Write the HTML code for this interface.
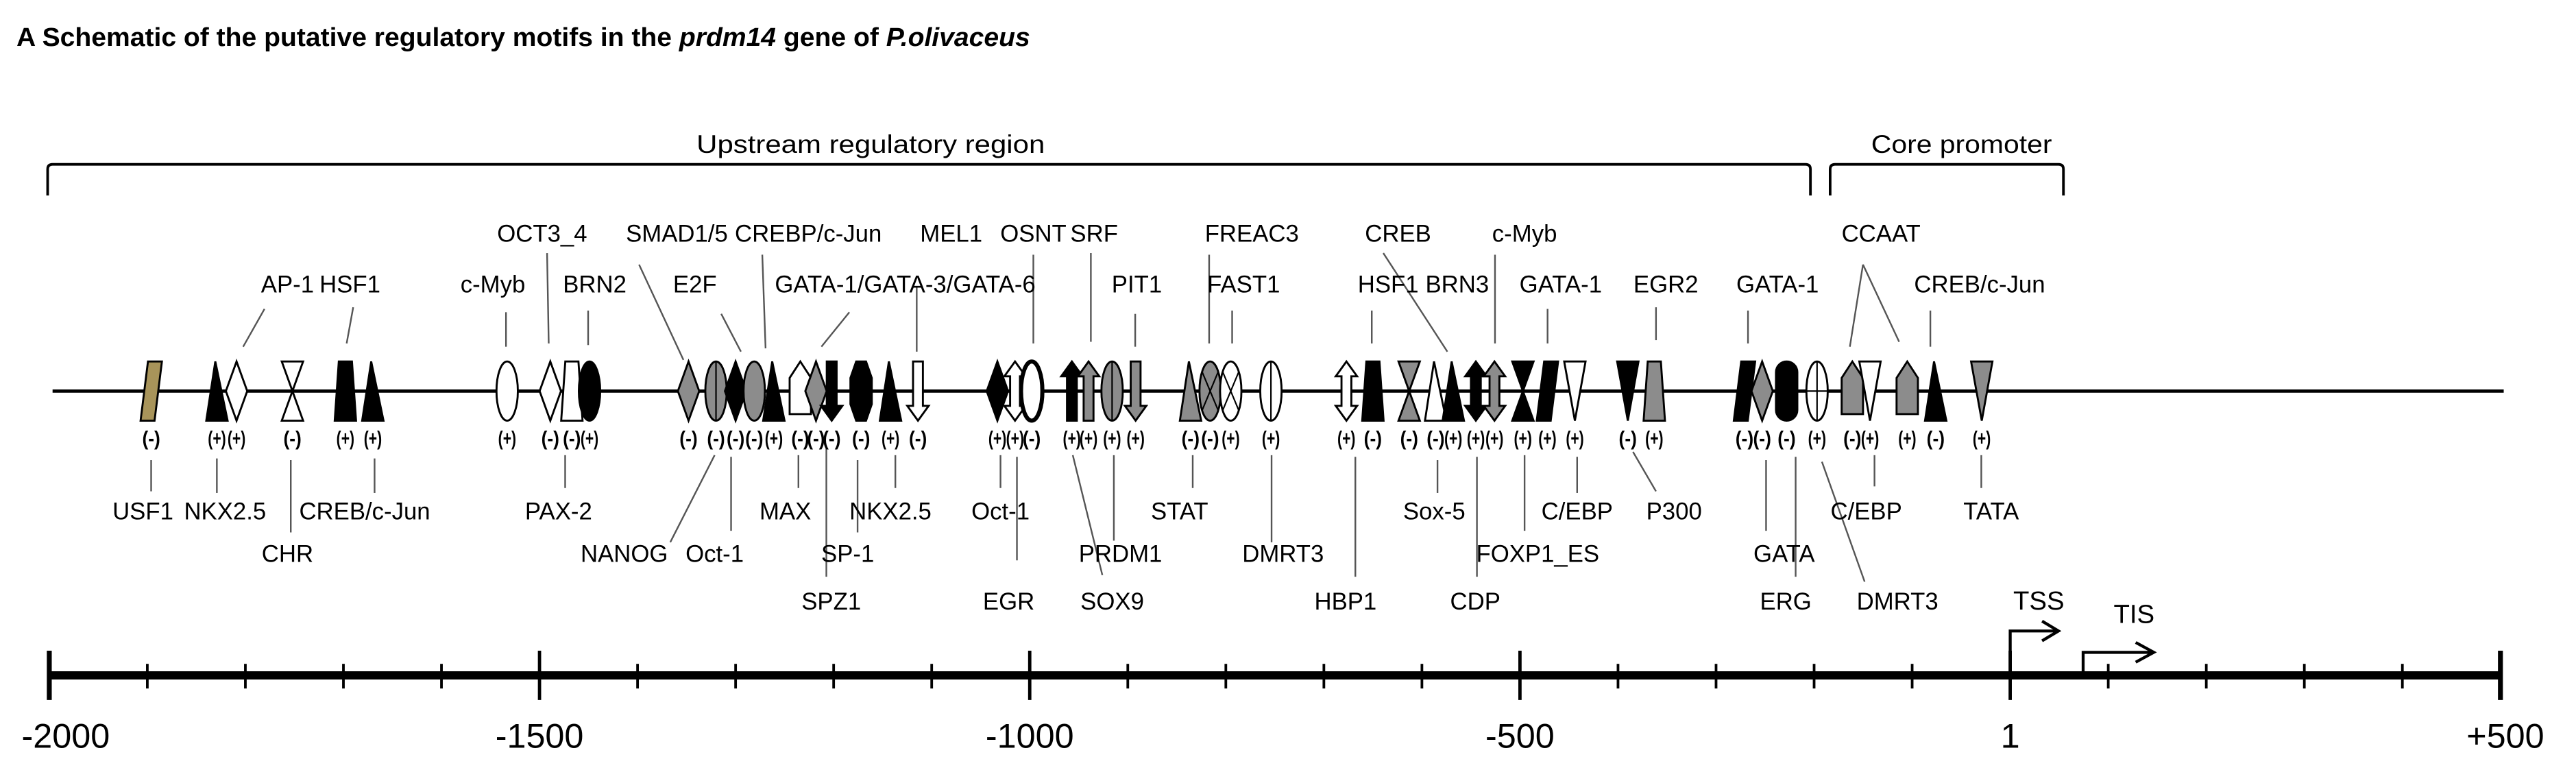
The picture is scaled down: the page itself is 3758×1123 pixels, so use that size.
<!DOCTYPE html>
<html><head><meta charset="utf-8"><style>
html,body{margin:0;padding:0;background:#fff;}
svg{display:block;}
text{font-family:"Liberation Sans",sans-serif;fill:#000;}
</style></head><body>
<svg id="fig" width="3758" height="1123" viewBox="0 0 1568 468.6" preserveAspectRatio="none" xmlns="http://www.w3.org/2000/svg">
<text x="10" y="28" font-size="16" font-weight="bold" textLength="617" lengthAdjust="spacingAndGlyphs">A Schematic of the putative regulatory motifs in the <tspan font-style="italic">prdm14</tspan> gene of <tspan font-style="italic">P.olivaceus</tspan></text>
<g>
<path d="M29,119 V103 Q29,100 32,100 H1099 Q1102,100 1102,103 V119" fill="none" stroke="#000" stroke-width="1.6"/>
<text x="530" y="93" font-size="15.5" text-anchor="middle" textLength="212" lengthAdjust="spacingAndGlyphs">Upstream regulatory region</text>
</g>
<g>
<path d="M1114,119 V103 Q1114,100 1117,100 H1253 Q1256,100 1256,103 V119" fill="none" stroke="#000" stroke-width="1.6"/>
<text x="1194" y="93" font-size="15.5" text-anchor="middle" textLength="110" lengthAdjust="spacingAndGlyphs">Core promoter</text>
</g>
<line x1="32" y1="238" x2="1524" y2="238" stroke="#000" stroke-width="2"/>
<g id="leaders"></g>
<g id="motifs"></g>
<g id="labels"></g>
<g id="axis"></g>
</svg>
<script>
// motif data (bp positions)
const motifPos = [-1896,-1829,-1809,-1752,-1698,-1670,-1533,-1489,-1467,-1449,-1348,-1320,-1300,-1281,-1261,-1234,-1218,-1202,-1172,-1142,-1114,-1033,-1015,-998,-957,-940,-916,-892,-836,-816,-795,-754,-677,-650,-613,-586,-568,-545,-526,-497,-472,-444,-390,-363,-271,-253,-228,-197,-161,-143,-105,-76,-29];
const motifShape = ['para','tri','diamond','hour','trap','tri','ellipse','diamond','trap','ellipse','diamond','ellipse','diamond','ellipse','tri','pent','diamond','arrowDown','hex','tri','arrowDown','diamond','arrowUD','ellipse','arrowUp','arrowUp','ellipse','arrowDown','tri','ellipse','ellipse','ellipse','arrowUD','trap','hour','tri','tri','arrowUD','arrowUD','hour','para','triDown','triDown','trap','para','diamond','rrect','ellipse','pent','triDown','pent','tri','triDown'];
const motifFill = ['o','k','w','w','k','k','w','w','w','k','g','g','k','g','k','w','g','k','k','k','w','k','w','w','k','g','g','g','g','g','w','w','w','k','g','w','k','k','g','k','k','w','k','g','k','g','k','w','g','w','g','k','g'];
const motifDeco = ['','','','','','','','','','','','v','','','','','','','','','','','','o','','','v','','','x','x','v','','','','','','','','','','','','','','','','c','','','','',''];
const motifStrand = ['(-)','(+)','(+)','(-)','(+)','(+)','(+)','(-)','(-)','(+)','(-)','(-)','(-)','(-)','(+)','(-)','(-)','(-)','(-)','(+)','(-)','(+)','(+)','(-)','(+)','(+)','(+)','(+)','(-)','(-)','(+)','(+)','(+)','(-)','(-)','(-)','(+)','(+)','(+)','(+)','(+)','(+)','(-)','(+)','(-)','(-)','(-)','(+)','(-)','(+)','(+)','(-)','(+)'];
// labels: text, x, y
const labelText = ['OCT3_4','SMAD1/5','CREBP/c-Jun','MEL1','OSNT','SRF','FREAC3','CREB','c-Myb','CCAAT','AP-1','HSF1','c-Myb','BRN2','E2F','GATA-1/GATA-3/GATA-6','PIT1','FAST1','HSF1','BRN3','GATA-1','EGR2','GATA-1','CREB/c-Jun','USF1','NKX2.5','CREB/c-Jun','CHR','PAX-2','NANOG','Oct-1','MAX','SP-1','SPZ1','NKX2.5','Oct-1','EGR','SOX9','PRDM1','STAT','DMRT3','HBP1','Sox-5','CDP','FOXP1_ES','C/EBP','P300','GATA','ERG','DMRT3','C/EBP','TATA'];
const labelX = [330,412,492,579,629,666,762,851,928,1145,175,213,300,362,423,551,692,757,845,887,950,1014,1082,1205,87,137,222,175,340,380,435,478,516,506,542,609,614,677,682,718,781,819,873,898,936,960,1019,1086,1087,1155,1136,1212];
const labelY = [142,142,142,142,142,142,142,142,142,142,173,173,173,173,173,173,173,173,173,173,173,173,173,173,311,311,311,337,311,337,337,311,337,366,311,311,366,366,337,311,337,366,311,366,337,311,311,337,366,366,311,311];
// leader lines x1,y1,x2,y2
const leaders = [[333,154,334,209],[389,161,416,219],[464,155,466,212],[558,175,558,214],[629,155,629,209],[664,154,664,208],[736,155,736,209],[842,154,881,214],[910,155,910,209],[1134,161,1126,211],[1134,161,1156,208],[161,188,148,211],[215,187,211,209],[308,190,308,211],[358,189,358,210],[439,191,451,214],[517,190,500,211],[691,191,691,211],[750,189,750,209],[835,189,835,209],[942,188,942,209],[1008,187,1008,207],[1064,189,1064,209],[1175,189,1175,211],
[92,280,92,299],[132,279,132,300],[228,279,228,300],[177,280,177,324],[344,277,344,297],[435,277,408,330],[445,278,445,323],[486,277,486,297],[522,280,522,324],[503,272,503,351],[545,277,545,297],[609,277,609,297],[619,278,619,341],[653,277,671,350],[678,277,678,329],[726,277,726,297],[774,277,774,330],[825,278,825,351],[875,280,875,300],[899,278,899,351],[928,277,928,323],[960,278,960,300],[994,275,1008,299],[1075,280,1075,323],[1093,278,1093,351],[1109,281,1135,354],[1141,277,1141,296],[1206,277,1206,297]];
const tickVals = [-2000,-1900,-1800,-1700,-1600,-1500,-1400,-1300,-1200,-1100,-1000,-900,-800,-700,-600,-500,-400,-300,-200,-100,0,100,200,300,400,500];
const tickLabels = ['-2000','-1500','-1000','-500','1','+500'];
const tickLabelVals = [-2000,-1500,-1000,-500,0,500];

const NS='http://www.w3.org/2000/svg';
const X = bp => 30 + (bp + 2000) * (1492/2500);
const fills = {k:'#000',w:'#fff',g:'#8c8c8c',o:'#a8945a'};
function mk(tag, attrs, parent){const e=document.createElementNS(NS,tag);for(const k in attrs)e.setAttribute(k,attrs[k]);parent.appendChild(e);return e;}
const T=220,B=256,M=238;
function pts(a){return a.map(p=>p.join(',')).join(' ');}
function shapePts(t,c){
 switch(t){
  case 'para': return pts([[c-2,T],[c+6.5,T],[c+2,B],[c-6.5,B]]);
  case 'tri': return pts([[c-1,T],[c+6.5,B],[c-6.5,B]]);
  case 'triDown': return pts([[c-6.5,T],[c+6.5,T],[c,B]]);
  case 'diamond': return pts([[c,T],[c+6.5,M],[c,B],[c-6.5,M]]);
  case 'hour': return pts([[c-6.5,T],[c+6.5,T],[c,M],[c+6.5,B],[c-6.5,B],[c,M]]);
  case 'trap': return pts([[c-4,T],[c+4,T],[c+6.5,B],[c-6.5,B]]);
  case 'pent': return pts([[c,T],[c+6.5,T+10],[c+6.5,B-4],[c-6.5,B-4],[c-6.5,T+10]]);
  case 'hex': return pts([[c-3,T],[c+3,T],[c+6.5,T+10],[c+6.5,B-10],[c+3,B],[c-3,B],[c-6.5,B-10],[c-6.5,T+10]]);
  case 'arrowDown': return pts([[c-3,T],[c+3,T],[c+3,B-9],[c+6.5,B-9],[c,B],[c-6.5,B-9],[c-3,B-9]]);
  case 'arrowUp': return pts([[c,T],[c+6.5,T+9],[c+3,T+9],[c+3,B],[c-3,B],[c-3,T+9],[c-6.5,T+9]]);
  case 'arrowUD': return pts([[c,T],[c+6.5,T+9],[c+3,T+9],[c+3,B-9],[c+6.5,B-9],[c,B],[c-6.5,B-9],[c-3,B-9],[c-3,T+9],[c-6.5,T+9]]);
 }
 return '';
}
const gm=document.getElementById('motifs');
motifPos.forEach((bp,i)=>{
 const c=X(bp), t=motifShape[i], f=fills[motifFill[i]];
 const g=mk('g',{},gm);
 
 
 if(t==='ellipse'){
  mk('ellipse',{cx:c,cy:M,rx:6.5,ry:18,fill:f,stroke:'#000','stroke-width':motifDeco[i]==='o'?2.5:1.2},g);
  const d=motifDeco[i];
  if(d==='v'||d==='c') mk('line',{x1:c,y1:T,x2:c,y2:B,stroke:'#000','stroke-width':0.9},g);
  if(d==='c') mk('line',{x1:c-6.5,y1:M,x2:c+6.5,y2:M,stroke:'#000','stroke-width':0.9},g);
  if(d==='x'){mk('line',{x1:c-5,y1:T+6,x2:c+5,y2:B-6,stroke:'#000','stroke-width':0.9},g);mk('line',{x1:c+5,y1:T+6,x2:c-5,y2:B-6,stroke:'#000','stroke-width':0.9},g);}
 } else if(t==='rrect'){
  mk('rect',{x:c-6.5,y:T,width:13,height:B-T,rx:6.5,fill:f,stroke:'#000','stroke-width':1.2},g);
 } else {
  mk('polygon',{points:shapePts(t,c),fill:f,stroke:'#000','stroke-width':1.2,'stroke-linejoin':'miter'},g);
 }
 const s=mk('text',{x:c,y:271,'font-size':12.5,'font-weight':'bold','text-anchor':'middle',textLength:11,lengthAdjust:'spacingAndGlyphs'},g);
 s.textContent=motifStrand[i];
});
const gl=document.getElementById('leaders');
leaders.forEach((l,i)=>{
 const e=mk('line',{x1:l[0],y1:l[1],x2:l[2],y2:l[3],stroke:'#555','stroke-width':1},gl);
 
 
});
const gt=document.getElementById('labels');
labelText.forEach((s,i)=>{
 const e=mk('text',{x:labelX[i],y:labelY[i]+5,'font-size':14.5,'text-anchor':'middle'},gt);
 e.textContent=s;
 
 
});
const ga=document.getElementById('axis');


mk('line',{x1:X(-2000),y1:411,x2:X(500),y2:411,stroke:'#000','stroke-width':5},ga);
tickVals.forEach(v=>{
 const major=tickLabelVals.includes(v);
 const e=mk('line',{x1:X(v),y1:major?396:404,x2:X(v),y2:major?426:419,stroke:'#000','stroke-width':major?(v===-2000||v===500?3:2):1.6},ga);
 
 
});
tickLabels.forEach((s,i)=>{
 let x=X(tickLabelVals[i]);
 if(i===0)x+=10; if(i===5)x+=3;
 const e=mk('text',{x:x,y:455,'font-size':21,'text-anchor':'middle'},ga);
 e.textContent=s;
 
 
});
// TSS / TIS arrows
const tss=mk('g',{},ga);


mk('path',{d:`M${X(0)},409 V384 H1252 M1243,378 L1253,384 L1243,390`,fill:'none',stroke:'#000','stroke-width':1.8},tss);
const t1=mk('text',{x:1241,y:371,'font-size':16,'text-anchor':'middle'},tss);t1.textContent='TSS';
const tis=mk('g',{},ga);


mk('path',{d:`M1268,409 V397 H1310 M1300,391 L1311,397 L1300,403`,fill:'none',stroke:'#000','stroke-width':1.8},tis);
const t2=mk('text',{x:1299,y:379,'font-size':16,'text-anchor':'middle'},tis);t2.textContent='TIS';
</script>
</body></html>
